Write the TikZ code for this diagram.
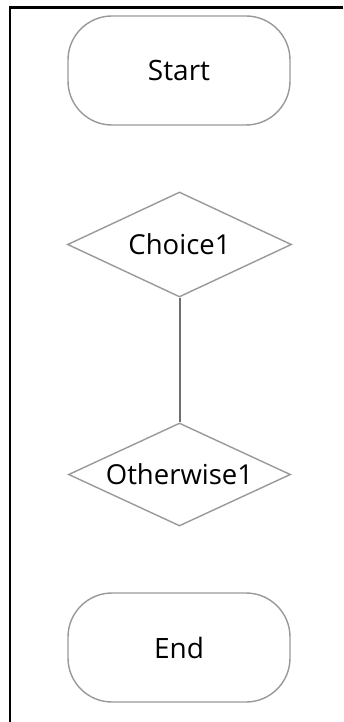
\documentclass[tikz,border=0pt]{standalone}
\usepackage{fontspec}
\setmainfont{Open Sans}
\usetikzlibrary{shapes.geometric}
\definecolor{shapegray}{HTML}{999999}
\definecolor{linegray}{HTML}{707070}
\tikzset{
  terminal/.style={draw=shapegray, line width=1.4pt, rounded corners=44pt,
    minimum width=222pt, minimum height=109pt, inner sep=0pt, font=\fontsize{28}{32}\selectfont},
  decision/.style={draw=shapegray, line width=1.4pt, diamond, aspect=2.13,
    minimum width=224pt, minimum height=105pt, inner sep=0pt, font=\fontsize{27.5}{32}\selectfont},
  connector/.style={draw=linegray, line width=2pt},
  frame/.style={draw=black, line width=2.6pt}
}
\begin{document}
\begin{tikzpicture}[x=1pt,y=-1pt]
\useasboundingbox (0,0) rectangle (343,722);
\coordinate (ftop) at (343,7.5);
\coordinate (fcorner) at (9.8,7.5);
\coordinate (fbot) at (9.8,722);
\draw[frame] (ftop) -- (fcorner) -- (fbot);
\node[terminal] (start) at (179,70.5) {Start};
\node[decision, minimum width=224pt, minimum height=105pt] (choice) at (179.5,244.5) {Choice1};
\node[decision, minimum width=222pt, minimum height=103pt] (other) at (179.5,474.5) {Otherwise1};
\node[terminal] (end) at (179,647.5) {End};
\draw[connector] (choice.south) -- (other.north);
\end{tikzpicture}
\end{document}
